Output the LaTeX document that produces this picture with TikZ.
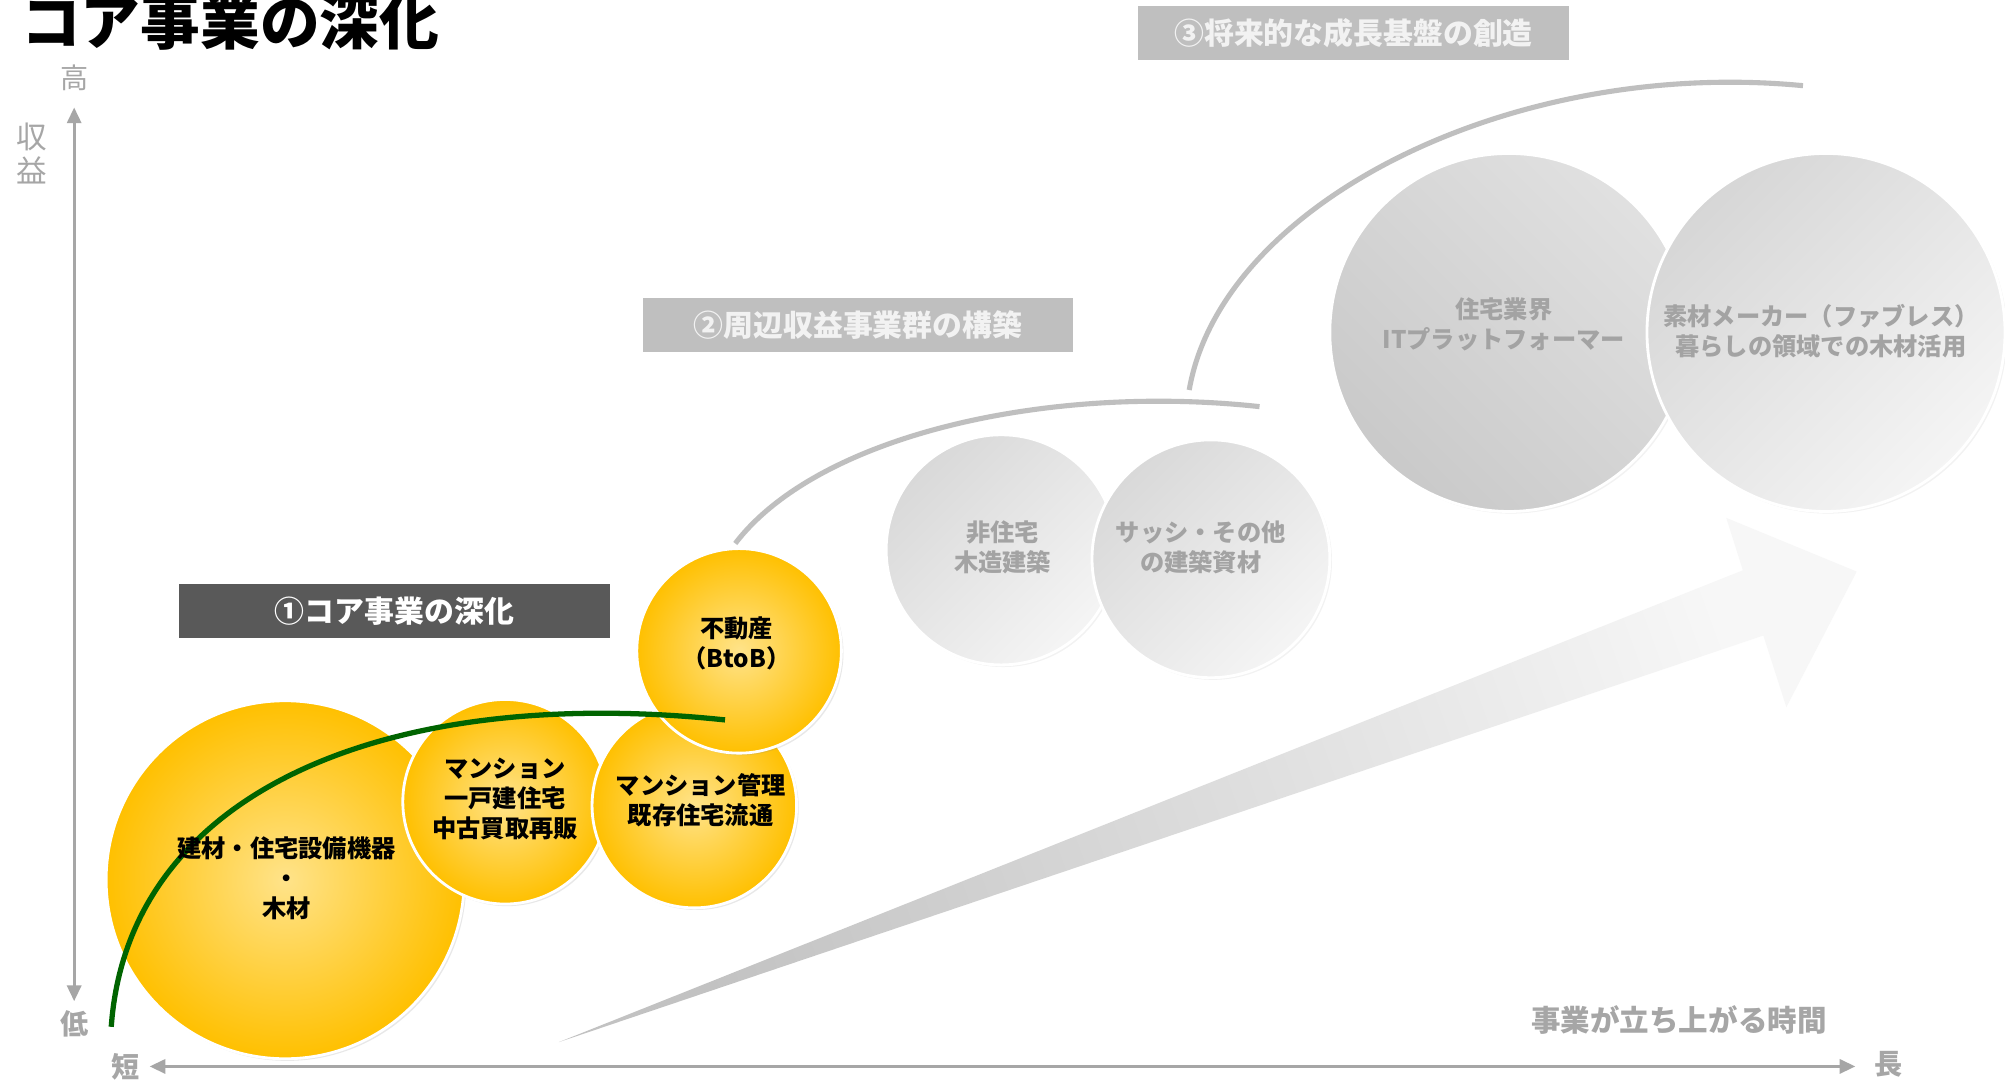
\documentclass[tikz,border=0pt]{standalone}
\usepackage{fontspec}
\setmainfont{Noto Sans CJK JP}
\usetikzlibrary{arrows.meta,shadows}
\definecolor{axisgray}{HTML}{A6A6A6}
\definecolor{boxdark}{HTML}{595959}
\definecolor{boxlight}{HTML}{BFBFBF}
\definecolor{boxtext}{HTML}{F2F2F2}
\definecolor{yelout}{HTML}{FFC000}
\definecolor{yelin}{HTML}{FFE38A}
\definecolor{grtxt}{HTML}{A3A3A3}
\definecolor{arcgray}{HTML}{BFBFBF}
\definecolor{curvegreen}{HTML}{006400}
\newcommand\pxu{0.012787cm}
\newcommand\fs[2]{\fontsize{#1}{#2}\selectfont}
\begin{document}
\begin{tikzpicture}[x=0.012787cm,y=-0.012787cm,
  ttl/.style={font=\fs{17}{20}\bfseries, text=black, inner sep=0pt, anchor=base west},
  axislbl/.style={font=\fs{8}{9.5}\bfseries, text=axisgray, inner sep=0pt},
  axisline/.style={draw=axisgray, line width=0.9pt},
  stagebox/.style={minimum width=337*\pxu, minimum height=42*\pxu, inner sep=0pt, font=\fs{8.5}{10}\bfseries},
  yball/.style={circle, inner sep=0pt, draw=white, line width=0.8pt, inner color=yelin, outer color=yelout,
    drop shadow={opacity=0.18, shadow xshift=0.6pt, shadow yshift=-0.6pt}},
  gball/.style={circle, inner sep=0pt, draw=white, line width=0.8pt,
    drop shadow={opacity=0.10, shadow xshift=0.6pt, shadow yshift=-0.6pt}},
  ytext/.style={align=center, font=\fs{6.9}{8.55}\bfseries, text=black, inner sep=0pt},
  gtext/.style={align=center, font=\fs{6.9}{8.55}\bfseries, text=grtxt, inner sep=0pt},
  arcline/.style={draw=arcgray, line width=1.45pt},
  greenline/.style={draw=curvegreen, line width=1.5pt}
]
\useasboundingbox (0,0) rectangle (1568,846.2);
\fill[white] (0,0) rectangle (1568,846.2);

% title
\node[ttl] (title) at (16,35) {コア事業の深化};

% axes
\coordinate (yTop) at (58,84);
\coordinate (yBot) at (58,783);
\coordinate (xL) at (117,834);
\coordinate (xR) at (1451,834);
\draw[axisline, {Triangle[length=4.5pt,width=4pt]}-{Triangle[length=4.5pt,width=4pt]}] (yBot) -- (yTop);
\draw[axisline, {Triangle[length=4.5pt,width=4pt]}-{Triangle[length=4.5pt,width=4pt]}] (xL) -- (xR);
\node[axislbl, font=\fs{8}{9.5}] (high) at (58,61) {高};
\node[axislbl] (low) at (58,801) {低};
\node[axislbl] (short) at (98,834) {短};
\node[axislbl] (long) at (1477,832) {長};
\node[axislbl, align=center, font=\fs{8.7}{9.5}] (rev) at (25,120) {収\\益};
\node[axislbl, font=\fs{8.4}{10}\bfseries] (time) at (1313,798) {事業が立ち上がる時間};

% big arrow
\coordinate (aT) at (437,815);
\coordinate (aS1) at (1363,446);
\coordinate (aB1) at (1350,405);
\coordinate (aP) at (1452,447);
\coordinate (aB2) at (1397,553);
\coordinate (aS2) at (1379,497);
\shade[top color=gray!48, bottom color=gray!6, shading angle=110]
  (aT) -- (aS1) -- (aB1) -- (aP) -- (aB2) -- (aS2) -- cycle;

% stage arcs
\coordinate (a2s) at (575,425);
\coordinate (a2e) at (985,318);
\coordinate (a3s) at (930,305);
\coordinate (a3e) at (1410,67);
\draw[arcline] (a2s) .. controls (640,340) and (820,300) .. (a2e);
\draw[arcline] (a3s) .. controls (955,160) and (1180,45) .. (a3e);

% stage boxes
\node[stagebox, fill=boxdark, text=white] (s1) at (308.5,478) {①コア事業の深化};
\node[stagebox, fill=boxlight, text=boxtext] (s2) at (671,254) {②周辺収益事業群の構築};
\node[stagebox, fill=boxlight, text=boxtext] (s3) at (1058.5,26) {③将来的な成長基盤の創造};

% gray circles
\node[gball, minimum size=180*\pxu, top color=gray!30, bottom color=gray!8, shading angle=45] (g1) at (783,430) {};
\node[gball, minimum size=186*\pxu, top color=gray!30, bottom color=gray!8, shading angle=45] (g2) at (947,437) {};
\node[gball, minimum size=280*\pxu, top color=gray!42, bottom color=gray!24, shading angle=135] (g3) at (1180,260) {};
\node[gball, minimum size=280*\pxu, top color=gray!32, bottom color=gray!8, shading angle=45] (g4) at (1428,260) {};
\node[gtext] (g1t) at (784,428) {非住宅\\木造建築};
\node[gtext] (g2t) at (939,428) {サッシ・その他\\の建築資材};
\node[gtext] (g3t) at (1176,253.5) {住宅業界\\ITプラットフォーマー};
\node[gtext] (g4t) at (1424,259) {素材メーカー（ファブレス）\\暮らしの領域での木材活用};

% yellow circles
\node[yball, minimum size=280*\pxu] (c1) at (223,688) {};
\node[yball, minimum size=160*\pxu] (c2) at (395,627) {};
\node[yball, minimum size=160*\pxu] (c3) at (543,630) {};
\node[yball, minimum size=160*\pxu] (c4) at (578,509) {};

% green curve
\coordinate (gS) at (87,803);
\coordinate (gE) at (567,563);
\draw[greenline] (gS) .. controls (100,620) and (300,535) .. (gE);

\node[ytext] (c1t) at (224,687) {建材・住宅設備機器\\・\\木材};
\node[ytext] (c2t) at (395,625) {マンション\\一戸建住宅\\中古買取再販};
\node[ytext] (c3t) at (548,626) {マンション管理\\既存住宅流通};
\node[ytext] (c4t) at (576,503) {不動産\\（BtoB）};
\end{tikzpicture}
\end{document}
